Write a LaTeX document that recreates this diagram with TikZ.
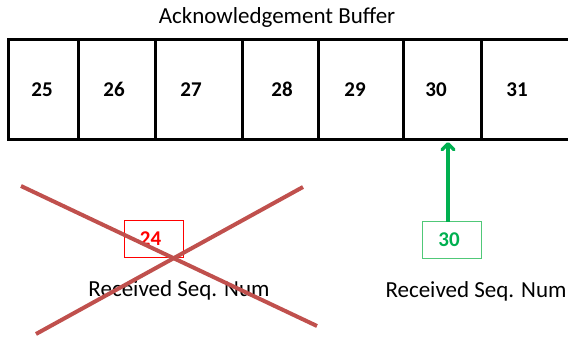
\documentclass[tikz,border=0pt]{standalone}
\usepackage{fontspec}
\setmainfont{Carlito}
\usetikzlibrary{arrows.meta}
\definecolor{crossred}{RGB}{192,80,77}
\definecolor{okgreen}{RGB}{0,176,80}
\definecolor{boxgreen}{RGB}{80,200,120}
\begin{document}
\begin{tikzpicture}[x=1pt,y=-1pt,
  cell/.style={draw=black,line width=3pt,minimum height=100pt,inner sep=0pt,outer sep=0pt,anchor=north west},
  num/.style={anchor=base,inner sep=0pt,font=\fontsize{21}{25}\selectfont\bfseries},
  lbl/.style={anchor=base,inner sep=0pt,font=\fontsize{23}{27}\selectfont},
  seqbox/.style={line width=1pt,minimum width=59pt,minimum height=37pt,inner sep=0pt,outer sep=0pt},
  crossline/.style={draw=crossred,line width=4pt}]
\useasboundingbox (0,0) rectangle (568,339);
\node[lbl] (title) at (277,24) {Acknowledgement Buffer};
% cells
\node[cell,minimum width=70pt] (c25) at (8,40) {};
\node[cell,minimum width=77pt] (c26) at (78,40) {};
\node[cell,minimum width=87pt] (c27) at (155,40) {};
\node[cell,minimum width=76pt] (c28) at (242,40) {};
\node[cell,minimum width=85pt] (c29) at (318,40) {};
\node[cell,minimum width=78pt] (c30) at (403,40) {};
\coordinate (etop) at (568,40);
\coordinate (ebot) at (568,140);
\draw[line width=3pt] (c30.north east) -- (etop);
\draw[line width=3pt] (c30.south east) -- (ebot);
% numbers
\node[num] (n25) at (42,97) {25};
\node[num] (n26) at (114,97) {26};
\node[num] (n27) at (191,97) {27};
\node[num] (n28) at (282,97) {28};
\node[num] (n29) at (355,97) {29};
\node[num] (n30) at (436,97) {30};
\node[num] (n31) at (517,97) {31};
% rejected
\node[seqbox,draw=red] (r24) at (153.5,239) {};
\node[num,text=red] (t24) at (150.5,246) {24};
\node[lbl] (rl1) at (179,297) {Received Seq. Num};
\coordinate (x1a) at (21,186);
\coordinate (x1b) at (317,326);
\coordinate (x2a) at (303,187);
\coordinate (x2b) at (36,334);
\draw[crossline] (x1a) -- (x1b);
\draw[crossline] (x2a) -- (x2b);
% accepted
\node[seqbox,draw=boxgreen] (g30) at (451.5,240.5) {};
\node[num,text=okgreen] (t30) at (449,247) {30};
\node[lbl] (rl2) at (476,298) {Received Seq. Num};
\draw[okgreen,line width=3.5pt,-{Straight Barb[length=6pt,width=12pt,round]}] (g30.north -| 448,0) -- (448,142);
\end{tikzpicture}
\end{document}
